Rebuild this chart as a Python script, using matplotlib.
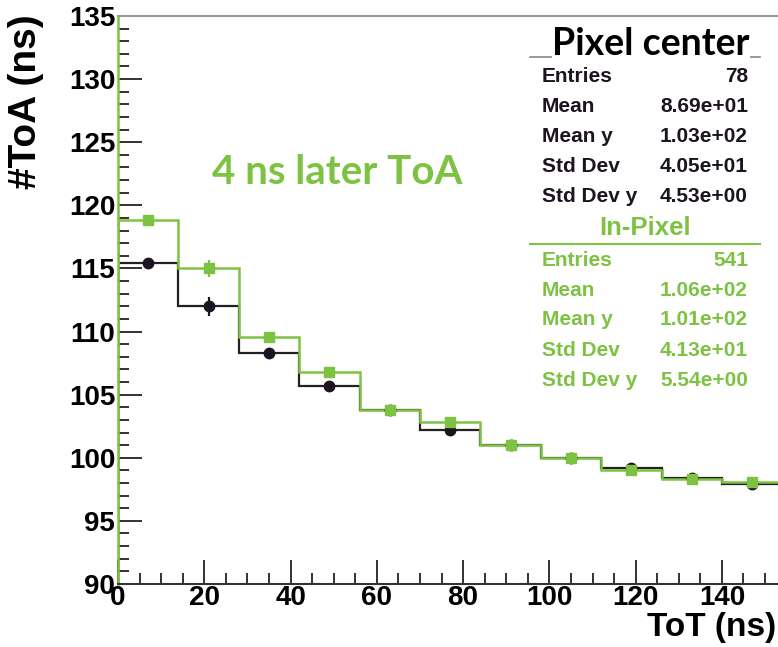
import numpy as np
import matplotlib
matplotlib.use("Agg")
import matplotlib.pyplot as plt
from matplotlib.ticker import MultipleLocator

# ToT bins (ns)
bin_edges = np.arange(0, 155, 14)
bin_centers = (bin_edges[:-1] + bin_edges[1:]) / 2

# mean ToA per ToT bin
toa_center = [115.4, 112.0, 108.3, 105.7, 103.8, 102.2, 101.0, 100.0, 99.2, 98.4, 97.9]
err_center = [0.2, 0.75, 0.4, 0.2, 0.15, 0.1, 0.1, 0.1, 0.1, 0.1, 0.1]
toa_inpix = [118.8, 115.0, 109.6, 106.8, 103.8, 102.8, 101.0, 100.0, 99.0, 98.35, 98.1]
err_inpix = [0.15, 0.7, 0.25, 0.15, 0.1, 0.1, 0.1, 0.1, 0.1, 0.1, 0.1]

stats_labels = ["Entries", "Mean", "Mean y", "Std Dev", "Std Dev y"]
stats_center = ["78", "8.69e+01", "1.03e+02", "4.05e+01", "4.53e+00"]
stats_inpix = ["541", "1.06e+02", "1.01e+02", "4.13e+01", "5.54e+00"]

green = "#7dc242"
dark = "#1c1420"

fig = plt.figure(figsize=(7.78, 6.47), dpi=100)
ax = fig.add_axes([0.1517, 0.0974, 0.8483, 0.8779])

ax.stairs(toa_center, bin_edges, baseline=90, color="#222222", lw=1.6)
ax.errorbar(bin_centers, toa_center, yerr=err_center, fmt="o", color=dark,
            ms=7.5, elinewidth=1.6, capsize=0)
ax.stairs(toa_inpix, bin_edges, baseline=90, color=green, lw=1.8)
ax.errorbar(bin_centers, toa_inpix, yerr=err_inpix, fmt="s", color=green,
            ms=6.5, elinewidth=1.6, capsize=0)

ax.set_xlim(0, 153)
ax.set_ylim(90, 135)
ax.xaxis.set_major_locator(MultipleLocator(20))
ax.xaxis.set_minor_locator(MultipleLocator(5))
ax.yaxis.set_major_locator(MultipleLocator(5))
ax.yaxis.set_minor_locator(MultipleLocator(1))
ax.tick_params(which="major", direction="in", length=17, width=1.3, color="#222222")
ax.tick_params(which="minor", direction="in", length=8, width=1.3, color="#222222")
ax.tick_params(axis="x", pad=1)
ax.tick_params(axis="y", pad=2)
for lab in ax.get_xticklabels() + ax.get_yticklabels():
    lab.set_fontfamily("Liberation Sans")
    lab.set_fontweight("bold")
    lab.set_fontsize(20)

ax.spines["right"].set_visible(False)
ax.spines["top"].set_color("#999999")
ax.spines["top"].set_linewidth(1.5)
ax.spines["left"].set_color(green)
ax.spines["left"].set_linewidth(1.8)
ax.spines["bottom"].set_color("#333333")
ax.spines["bottom"].set_linewidth(1.5)

fig.text(0.034, 0.978, "#ToA (ns)", rotation=90, ha="center", va="top",
         fontsize=28, fontweight="bold", family="Liberation Sans")
fig.text(0.997, 0.006, "ToT (ns)", ha="right", va="bottom",
         fontsize=24, fontweight="bold", family="Liberation Sans")

fig.text(0.433, 0.734, "4 ns later ToA", ha="center", va="center",
         fontsize=29, fontweight="bold", color=green, family="Lato")

# stats box
fig.lines.append(plt.Line2D([530 / 778, 760 / 778], [1 - 57 / 647, 1 - 57 / 647],
                            transform=fig.transFigure, color="#888888", lw=1.2))
fig.text(651 / 778, 1 - 44 / 647, "Pixel center", ha="center", va="center",
         fontsize=27, fontweight="bold", family="Lato",
         bbox=dict(facecolor="white", edgecolor="none", pad=0))
row_y = [76, 107, 136, 167, 197]
for lab, val, yy in zip(stats_labels, stats_center, row_y):
    fig.text(542 / 778, 1 - yy / 647, lab, ha="left", va="center", fontsize=15,
             fontweight="bold", color=dark, family="Liberation Sans")
    fig.text(748 / 778, 1 - yy / 647, val, ha="right", va="center", fontsize=15,
             fontweight="bold", color=dark, family="Liberation Sans")
fig.text(645 / 778, 1 - 228 / 647, "In-Pixel", ha="center", va="center",
         fontsize=18.5, fontweight="bold", color=green, family="Liberation Sans")
fig.lines.append(plt.Line2D([530 / 778, 760 / 778], [1 - 244 / 647, 1 - 244 / 647],
                            transform=fig.transFigure, color=green, lw=1.5))
row_y2 = [260, 290, 320, 351, 381]
for lab, val, yy in zip(stats_labels, stats_inpix, row_y2):
    fig.text(542 / 778, 1 - yy / 647, lab, ha="left", va="center", fontsize=15,
             fontweight="bold", color=green, family="Liberation Sans")
    fig.text(748 / 778, 1 - yy / 647, val, ha="right", va="center", fontsize=15,
             fontweight="bold", color=green, family="Liberation Sans")

fig.savefig("out.png", dpi=100)
